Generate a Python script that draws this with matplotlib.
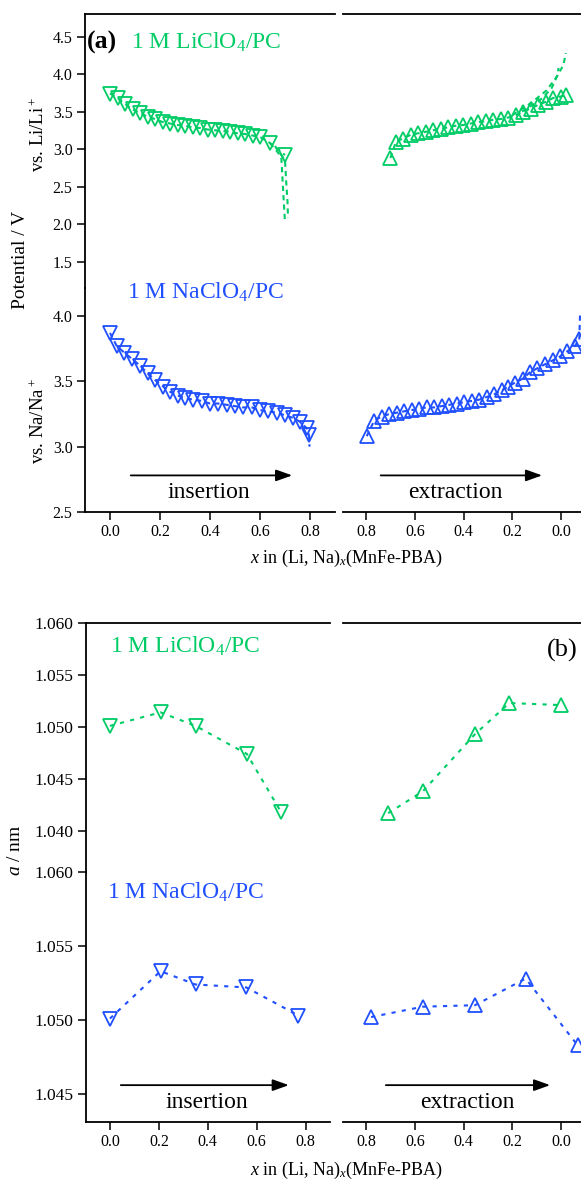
import matplotlib
matplotlib.use('Agg')
import matplotlib.pyplot as plt
from matplotlib.ticker import FormatStrFormatter

plt.rcParams['font.family'] = ['Liberation Serif', 'DejaVu Serif']
plt.rcParams['mathtext.fontset'] = 'custom'
plt.rcParams['mathtext.rm'] = 'Liberation Serif'
plt.rcParams['mathtext.it'] = 'Liberation Serif:italic'
plt.rcParams['mathtext.bf'] = 'Liberation Serif:bold'

green = '#00cc66'
blue = '#1f4fff'

# ---- (a) potential curves ----
li_ins_x = [0.0, 0.03, 0.06, 0.09, 0.12, 0.15, 0.18, 0.21, 0.24, 0.27, 0.30, 0.33,
            0.36, 0.39, 0.42, 0.45, 0.48, 0.51, 0.54, 0.57, 0.60, 0.64, 0.70]
li_ins_v = [3.74, 3.68, 3.60, 3.53, 3.48, 3.43, 3.40, 3.36, 3.34, 3.32, 3.31, 3.29,
            3.28, 3.26, 3.25, 3.24, 3.23, 3.21, 3.20, 3.18, 3.16, 3.08, 2.92]
li_ins_tail1_x = [0.64, 0.685, 0.69, 0.695, 0.70]
li_ins_tail1_v = [3.08, 2.90, 2.60, 2.30, 2.02]
li_ins_tail2_x = [0.66, 0.70, 0.705, 0.71, 0.712]
li_ins_tail2_v = [3.04, 2.85, 2.55, 2.30, 2.08]

li_ext_x = [0.70, 0.677, 0.647, 0.617, 0.585, 0.554, 0.524, 0.494, 0.462, 0.431, 0.401,
            0.370, 0.339, 0.309, 0.278, 0.247, 0.216, 0.185, 0.155, 0.124, 0.093,
            0.062, 0.032, 0.001, -0.02]
li_ext_v = [2.88, 3.10, 3.14, 3.19, 3.21, 3.23, 3.25, 3.27, 3.29, 3.31, 3.32,
            3.34, 3.36, 3.37, 3.39, 3.40, 3.42, 3.45, 3.50, 3.54, 3.59,
            3.63, 3.68, 3.70, 3.72]
li_ext_tail1_x = [0.20, 0.12, 0.06, 0.02, -0.01, -0.02]
li_ext_tail1_v = [3.45, 3.62, 3.78, 3.95, 4.12, 4.28]
li_ext_tail2_x = [0.16, 0.09, 0.04, 0.015, 0.01]
li_ext_tail2_v = [3.50, 3.64, 3.80, 3.98, 4.08]

na_ins_x = [0.0, 0.027, 0.057, 0.089, 0.12, 0.151, 0.18, 0.213, 0.24, 0.273, 0.30,
            0.333, 0.367, 0.40, 0.433, 0.467, 0.50, 0.533, 0.567, 0.60, 0.633,
            0.667, 0.70, 0.733, 0.76, 0.787, 0.796]
na_ins_v = [3.87, 3.77, 3.72, 3.67, 3.62, 3.56, 3.51, 3.46, 3.42, 3.39, 3.37,
            3.36, 3.35, 3.33, 3.33, 3.32, 3.31, 3.30, 3.30, 3.28, 3.27,
            3.26, 3.24, 3.22, 3.19, 3.14, 3.09]
na_ins_tail_x = [0.796, 0.798]
na_ins_tail_v = [3.09, 3.00]

na_ext_x = [0.797, 0.766, 0.736, 0.704, 0.674, 0.644, 0.613, 0.583, 0.551, 0.521,
            0.49, 0.458, 0.428, 0.398, 0.366, 0.335, 0.305, 0.275, 0.243, 0.216,
            0.189, 0.157, 0.127, 0.097, 0.066, 0.034, 0.004, -0.026, -0.057, -0.075]
na_ext_v = [3.08, 3.20, 3.23, 3.25, 3.26, 3.27, 3.28, 3.29, 3.30, 3.30,
            3.31, 3.32, 3.33, 3.34, 3.35, 3.36, 3.38, 3.40, 3.43, 3.46,
            3.49, 3.52, 3.57, 3.60, 3.63, 3.66, 3.69, 3.73, 3.77, 3.82]
na_ext_tail_x = [-0.075, -0.078]
na_ext_tail_v = [3.82, 4.01]

# ---- (b) lattice constant ----
b_li_ins_x = [0.0, 0.207, 0.35, 0.56, 0.70]
b_li_ins_a = [1.0501, 1.0514, 1.0501, 1.0474, 1.0418]
b_li_ext_x = [0.709, 0.567, 0.353, 0.212, 0.001]
b_li_ext_a = [1.0417, 1.0438, 1.0493, 1.0523, 1.0521]
b_na_ins_x = [0.0, 0.207, 0.35, 0.558, 0.771]
b_na_ins_a = [1.0501, 1.0533, 1.0524, 1.0522, 1.0503]
b_na_ext_x = [0.779, 0.567, 0.353, 0.145, -0.068]
b_na_ext_a = [1.0502, 1.0509, 1.0510, 1.0528, 1.0483]

x_ticks_ins = [0.0, 0.2, 0.4, 0.6, 0.8]
x_ticks_ext = [0.8, 0.6, 0.4, 0.2, 0.0]
li_v_ticks = [1.5, 2.0, 2.5, 3.0, 3.5, 4.0, 4.5]
na_v_ticks = [2.5, 3.0, 3.5, 4.0]
li_a_ticks = [1.040, 1.045, 1.050, 1.055, 1.060]
na_a_ticks = [1.045, 1.050, 1.055, 1.060]

W, H = 581, 1180
fig = plt.figure(figsize=(W / 100, H / 100), dpi=100)


def box(x0, y0, x1, y1):
    return [x0 / W, 1 - y1 / H, (x1 - x0) / W, (y1 - y0) / H]


def style(ax, left, top, bottom, lsize=11.5):
    for s in ['left', 'right', 'top', 'bottom']:
        ax.spines[s].set_visible(False)
        ax.spines[s].set_linewidth(1.3)
    ax.spines['left'].set_visible(left)
    ax.spines['top'].set_visible(top)
    ax.spines['bottom'].set_visible(bottom)
    ax.patch.set_alpha(0)
    ax.tick_params(direction='out', length=5.5, width=1.1, labelsize=lsize)
    if not left:
        ax.set_yticks([])
    if not bottom:
        ax.set_xticks([])


ext_left = (561 - 343) / 243.75
ext_right = (561 - 581) / 243.75

# panel (a)
ax1 = fig.add_axes(box(85, 14, 335, 288))
ax2 = fig.add_axes(box(343, 14, 581, 288))
ax3 = fig.add_axes(box(85, 288, 335, 512))
ax4 = fig.add_axes(box(343, 288, 581, 512))
# panel (b)
bx1 = fig.add_axes(box(85.5, 623, 330, 872))
bx2 = fig.add_axes(box(343, 623, 581, 872))
bx3 = fig.add_axes(box(85.5, 872, 330, 1122))
bx4 = fig.add_axes(box(343, 872, 581, 1122))

style(ax1, True, True, False)
style(ax2, False, True, False)
style(ax3, True, False, True)
style(ax4, False, False, True)
style(bx1, True, True, False, 12.5)
style(bx2, False, True, False)
style(bx3, True, False, True, 12.5)
style(bx4, False, False, True)
bx3.tick_params(axis='x', labelsize=11.5)

dash_a = (0, (2.5, 2))
dash_b = (0, (2, 3))
mk = dict(markersize=9.5, markerfacecolor='none', markeredgewidth=1.3)

ax1.plot(li_ins_x, li_ins_v, color=green, ls=dash_a, lw=1.5, marker='v', **mk)
ax1.plot(li_ins_tail1_x, li_ins_tail1_v, color=green, ls=dash_a, lw=1.5)
ax1.plot(li_ins_tail2_x, li_ins_tail2_v, color=green, ls=dash_a, lw=1.5)
ax2.plot(li_ext_x, li_ext_v, color=green, ls=dash_a, lw=1.5, marker='^', **mk)
ax2.plot(li_ext_tail1_x, li_ext_tail1_v, color=green, ls=dash_a, lw=1.5)
ax2.plot(li_ext_tail2_x, li_ext_tail2_v, color=green, ls=dash_a, lw=1.5)
ax3.plot(na_ins_x, na_ins_v, color=blue, ls=dash_a, lw=1.5, marker='v', **mk)
ax3.plot(na_ins_tail_x, na_ins_tail_v, color=blue, ls=dash_a, lw=1.5)
ax4.plot(na_ext_x, na_ext_v, color=blue, ls=dash_a, lw=1.5, marker='^', **mk)
ax4.plot(na_ext_tail_x, na_ext_tail_v, color=blue, ls=dash_a, lw=1.5)

bx1.plot(b_li_ins_x, b_li_ins_a, color=green, ls=dash_b, lw=1.5, marker='v', **mk)
bx2.plot(b_li_ext_x, b_li_ext_a, color=green, ls=dash_b, lw=1.5, marker='^', **mk)
bx3.plot(b_na_ins_x, b_na_ins_a, color=blue, ls=dash_b, lw=1.5, marker='v', **mk)
bx4.plot(b_na_ext_x, b_na_ext_a, color=blue, ls=dash_b, lw=1.5, marker='^', **mk)

for ax in [ax1, ax3, bx1, bx3]:
    ax.set_xlim(-0.1, 0.9)
for ax in [ax2, ax4, bx2, bx4]:
    ax.set_xlim(ext_left, ext_right)

ax1.set_ylim(1.147, 4.8)
ax2.set_ylim(1.147, 4.8)
ax3.set_ylim(2.5, 4.214)
ax4.set_ylim(2.5, 4.214)
bx1.set_ylim(1.03604, 1.060)
bx2.set_ylim(1.03604, 1.060)
bx3.set_ylim(1.04311, 1.060)
bx4.set_ylim(1.04311, 1.060)

ax1.set_yticks(li_v_ticks)
ax3.set_yticks(na_v_ticks)
bx1.set_yticks(li_a_ticks)
bx3.set_yticks(na_a_ticks)
for ax in [ax1, ax3]:
    ax.yaxis.set_major_formatter(FormatStrFormatter('%.1f'))
for ax in [bx1, bx3]:
    ax.yaxis.set_major_formatter(FormatStrFormatter('%.3f'))
for ax in [ax3, bx3]:
    ax.set_xticks(x_ticks_ins)
    ax.xaxis.set_major_formatter(FormatStrFormatter('%.1f'))
for ax in [ax4, bx4]:
    ax.set_xticks(x_ticks_ext)
    ax.xaxis.set_major_formatter(FormatStrFormatter('%.1f'))


def ftext(px, py, s, **kw):
    fig.text(px / W, 1 - py / H, s, **kw)


# labels panel (a)
ftext(87, 42, '(a)', fontsize=18.5, fontweight='bold', va='center')
ftext(131, 42, r'1 M LiClO$_4$/PC', fontsize=17, color=green, va='center')
ftext(127, 292, r'1 M NaClO$_4$/PC', fontsize=17, color=blue, va='center')
ftext(39, 134, r'vs. Li/Li$^+$', fontsize=13.5, rotation=90, ha='center', va='center')
ftext(21, 260, 'Potential / V', fontsize=14, rotation=90, ha='center', va='center')
ftext(39, 421, r'vs. Na/Na$^+$', fontsize=13.5, rotation=90, ha='center', va='center')
ftext(346, 558, r'$x$ in (Li, Na)$_x$(MnFe-PBA)', fontsize=13, ha='center', va='center')

# labels panel (b)
ftext(110, 646, r'1 M LiClO$_4$/PC', fontsize=17, color=green, va='center')
ftext(578, 650, '(b)', fontsize=19, ha='right', va='center')
ftext(107, 892, r'1 M NaClO$_4$/PC', fontsize=17, color=blue, va='center')
ftext(15, 850, r'$a$ / nm', fontsize=14, rotation=90, ha='center', va='center')
ftext(346, 1170, r'$x$ in (Li, Na)$_x$(MnFe-PBA)', fontsize=13, ha='center', va='center')

arrow = dict(arrowstyle='-|>,head_length=0.7,head_width=0.25', color='black', lw=1.3,
             mutation_scale=14)
ax3.annotate('', xy=(0.74, 2.78), xytext=(0.072, 2.78), arrowprops=arrow)
ax3.text(0.395, 2.646, 'insertion', fontsize=17, ha='center', va='center')
ax4.annotate('', xy=(0.066, 2.78), xytext=(0.751, 2.78), arrowprops=arrow)
ax4.text(0.435, 2.646, 'extraction', fontsize=17, ha='center', va='center')
bx3.annotate('', xy=(0.743, 1.0456), xytext=(0.033, 1.0456), arrowprops=arrow)
bx3.text(0.396, 1.0444, 'insertion', fontsize=17, ha='center', va='center')
bx4.annotate('', xy=(0.033, 1.0456), xytext=(0.730, 1.0456), arrowprops=arrow)
bx4.text(0.385, 1.0444, 'extraction', fontsize=17, ha='center', va='center')

fig.savefig('out.png', dpi=100)
